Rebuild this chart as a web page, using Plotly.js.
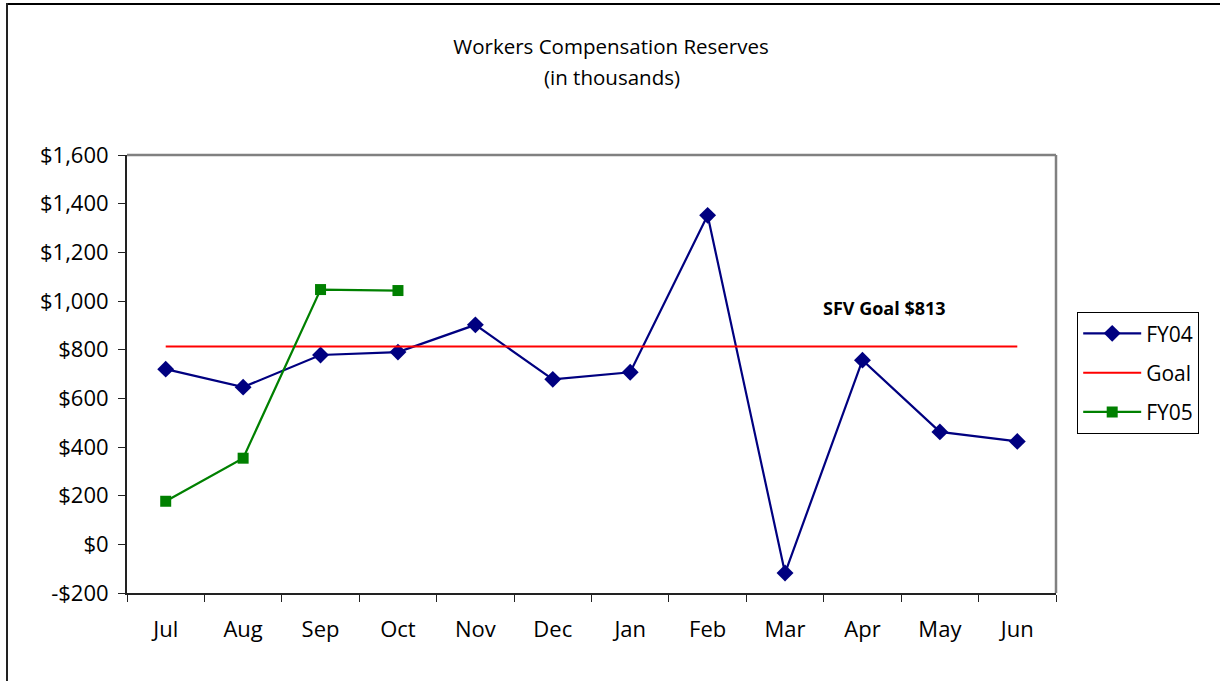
<!DOCTYPE html>
<html>
<head>
<meta charset="utf-8">
<script src="https://cdn.plot.ly/plotly-3.0.1.min.js"></script>
<style>
html,body{margin:0;padding:0;background:#fff;}
#wrap{position:relative;width:1220px;height:681px;}
#chart{width:1220px;height:681px;}
#bt{position:absolute;left:6px;top:3px;width:1214px;height:2px;background:#000;}
#bl{position:absolute;left:6px;top:3px;width:2px;height:678px;background:#222;}
</style>
</head>
<body>
<div id="wrap"><div id="chart"></div><div id="bt"></div><div id="bl"></div></div>
<script>
const months = ["Jul","Aug","Sep","Oct","Nov","Dec","Jan","Feb","Mar","Apr","May","Jun"];
const fy04 = [720, 646, 778, 790, 902, 678, 707, 1352, -118, 757, 462, 423];
const goal = [813, 813, 813, 813, 813, 813, 813, 813, 813, 813, 813, 813];
const fy05Months = ["Jul","Aug","Sep","Oct"];
const fy05 = [177, 354, 1047, 1043];
const yTicks = [-200, 0, 200, 400, 600, 800, 1000, 1200, 1400, 1600];
const yTickText = ["-$200","$0","$200","$400","$600","$800","$1,000","$1,200","$1,400","$1,600"];

const FONT = "Open Sans, DejaVu Sans, sans-serif";

const traces = [
  {x: months, y: fy04, name: "FY04", legendgroup: "a", type: "scatter", mode: "lines+markers",
   line: {color: "#000080", width: 2.2}, marker: {symbol: "diamond", size: 13, color: "#000080"}},
  {x: months, y: goal, name: "Goal", legendgroup: "b", type: "scatter", mode: "lines",
   line: {color: "#ff0000", width: 2}},
  {x: fy05Months, y: fy05, name: "FY05", legendgroup: "c", type: "scatter", mode: "lines+markers",
   line: {color: "#008000", width: 2.2}, marker: {symbol: "square", size: 11, color: "#008000"}}
];

const layout = {
  width: 1220, height: 681,
  margin: {l: 127, r: 164, t: 155, b: 88},
  paper_bgcolor: "#fff", plot_bgcolor: "#fff",
  font: {family: FONT, color: "#000", size: 22},
  title: {text: "Workers Compensation Reserves", x: 611/1220, xref: "container", xanchor: "center",
          yref: "container", y: 1 - 47/681, yanchor: "middle", font: {size: 20.5, family: FONT, color: "#000"}},
  showlegend: true,
  legend: {x: (1077-127)/929, xanchor: "left", y: (593-373)/438, yanchor: "middle", bordercolor: "#000", borderwidth: 1.2,
           font: {size: 21, family: FONT}, bgcolor: "#fff", tracegroupgap: 9, itemwidth: 58},
  xaxis: {type: "category", categoryorder: "array", categoryarray: months, range: [-0.5, 11.5],
          showgrid: false, zeroline: false, showline: true, linecolor: "#222", linewidth: 2,
          ticks: "outside", ticklen: 7, tickcolor: "#222", tickwidth: 1, tickson: "boundaries",
          ticklabelstandoff: 16, tickfont: {size: 22, family: FONT}, fixedrange: true},
  yaxis: {range: [-200, 1600], tickvals: yTicks, ticktext: yTickText, showgrid: false, zeroline: false,
          showline: true, linecolor: "#222", linewidth: 2, ticks: "outside", ticklen: 7, tickcolor: "#222",
          ticklabelstandoff: 5, tickfont: {size: 22, family: FONT}, fixedrange: true},
  shapes: [
    {type: "line", xref: "paper", yref: "paper", x0: 0, x1: 1, y0: 1, y1: 1, line: {color: "#808080", width: 2.5}},
    {type: "line", xref: "paper", yref: "paper", x0: 1, x1: 1, y0: 0, y1: 1, line: {color: "#808080", width: 2.5}}
  ],
  annotations: [
    {text: "(in thousands)", xref: "paper", yref: "paper", x: (612-127)/929, y: (593-77)/438,
     xanchor: "center", yanchor: "middle", showarrow: false, font: {size: 20.5, family: FONT, color: "#000"}},
    {text: "<b>SFV Goal $813</b>", xref: "paper", yref: "paper", x: (884-127)/929, y: (593-308)/438,
     xanchor: "center", yanchor: "middle", showarrow: false, font: {size: 18, family: FONT, color: "#000"}}
  ]
};

Plotly.newPlot("chart", traces, layout, {displayModeBar: false, staticPlot: true});
</script>
</body>
</html>
